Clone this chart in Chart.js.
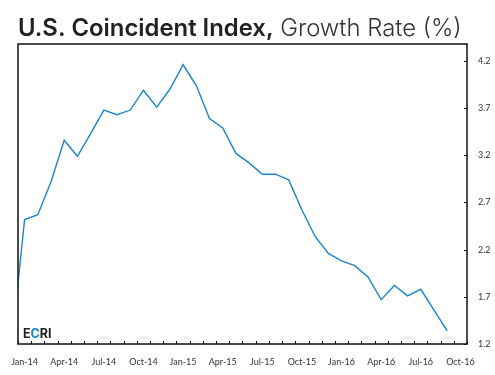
<!DOCTYPE html>
<html>
<head>
<meta charset="utf-8">
<script src="https://cdn.jsdelivr.net/npm/chart.js@4.4.0/dist/chart.umd.min.js"></script>
<style>
  html, body { margin: 0; padding: 0; background: #fff; }
  #wrap { width: 495px; height: 375px; }
</style>
</head>
<body>
<div id="wrap"><canvas id="IndexChart" width="495" height="375"></canvas></div>
<script>
// monthly categories (Dec-13 sits just left of the visible axis, clipped like the original)
const months = ["Dec-13",
  "Jan-14","Feb-14","Mar-14","Apr-14","May-14","Jun-14","Jul-14","Aug-14","Sep-14","Oct-14","Nov-14","Dec-14",
  "Jan-15","Feb-15","Mar-15","Apr-15","May-15","Jun-15","Jul-15","Aug-15","Sep-15","Oct-15","Nov-15","Dec-15",
  "Jan-16","Feb-16","Mar-16","Apr-16","May-16","Jun-16","Jul-16","Aug-16","Sep-16","Oct-16"];
const growthRate = [1.18,
  2.52, 2.57, 2.92, 3.36, 3.19, 3.43, 3.68, 3.63, 3.68, 3.89, 3.71, 3.90,
  4.16, 3.94, 3.59, 3.49, 3.22, 3.12, 3.00, 3.00, 2.94, 2.62, 2.34, 2.16,
  2.08, 2.03, 1.91, 1.67, 1.82, 1.71, 1.78, 1.56, 1.34, null];
const yTicks = [1.2, 1.7, 2.2, 2.7, 3.2, 3.7, 4.2];
const shownMonths = ["Jan", "Apr", "Jul", "Oct"];

const framePlugin = {
  id: "frame",
  afterDraw(chart) {
    const ctx = chart.ctx;
    const a = chart.chartArea;
    const xs = chart.scales.x, ys = chart.scales.y;
    ctx.save();
    // box round the plot
    ctx.strokeStyle = "#111";
    ctx.lineWidth = 1.5;
    ctx.strokeRect(a.left, a.top, a.right - a.left, a.bottom - a.top);
    // inward tick marks
    ctx.lineWidth = 1;
    ctx.beginPath();
    const step = xs.getPixelForValue(2) - xs.getPixelForValue(1);
    for (let i = xs.min; i <= xs.max + 1; i++) {
      const px = Math.round(xs.getPixelForValue(i) - step / 2) + 0.5;
      ctx.moveTo(px, a.bottom);
      ctx.lineTo(px, a.bottom - 3);
    }
    yTicks.forEach(v => {
      const py = Math.round(ys.getPixelForValue(v)) + 0.5;
      ctx.moveTo(a.right, py);
      ctx.lineTo(a.right - 3, py);
    });
    ctx.stroke();

    // title: bold part + light part
    const bold = "U.S. Coincident Index,";
    const light = " Growth Rate (%)";
    let size = 21;
    const fam = "Inter, 'Open Sans', sans-serif";
    const measure = s => {
      ctx.font = "600 " + s + "px " + fam;
      const w1 = ctx.measureText(bold).width;
      ctx.font = "300 " + s + "px " + fam;
      return w1 + ctx.measureText(light).width;
    };
    size = size * 444 / measure(size);
    ctx.textBaseline = "alphabetic";
    ctx.fillStyle = "#222";
    ctx.font = "600 " + size + "px " + fam;
    ctx.fillText(bold, 18, 36);
    const w1 = ctx.measureText(bold).width;
    ctx.fillStyle = "#333";
    ctx.font = "300 " + size + "px " + fam;
    ctx.fillText(light, 18 + w1, 36);

    // ECRI mark
    ctx.font = "bold 12.5px Inter, sans-serif";
    let lx = 23;
    [["E", "#222"], ["C", "#1e84c8"], ["RI", "#222"]].forEach(([t, c]) => {
      ctx.fillStyle = c;
      ctx.fillText(t, lx, 338);
      lx += ctx.measureText(t).width;
    });
    ctx.restore();
  }
};

let ctxIdx = document.getElementById("IndexChart").getContext("2d");
let indexChart = new Chart(ctxIdx, {
  type: "line",
  data: {
    labels: months,
    datasets: [{
      label: "Growth Rate (%)",
      data: growthRate,
      borderColor: "#1e84c8",
      borderWidth: 1.4,
      pointRadius: 0,
      tension: 0
    }]
  },
  options: {
    responsive: false,
    animation: false,
    layout: { padding: { left: 18, top: 44, right: 0, bottom: 0 } },
    plugins: {
      legend: { display: false },
      tooltip: { enabled: false }
    },
    scales: {
      x: {
        type: "category",
        min: "Jan-14",
        max: "Oct-16",
        offset: true,
        grid: { display: false },
        border: { display: false },
        ticks: {
          autoSkip: false,
          maxRotation: 0,
          padding: 5,
          color: "#333",
          font: { family: "Lato, sans-serif", size: 9 },
          callback: function (value) {
            const lab = this.getLabelForValue(value);
            return shownMonths.includes(lab.slice(0, 3)) ? lab : "";
          }
        },
        afterFit: s => { s.height = 31; }
      },
      y: {
        position: "right",
        min: 1.2,
        max: 4.38,
        grid: { display: false },
        border: { display: false },
        afterBuildTicks: s => { s.ticks = yTicks.map(v => ({ value: v })); },
        ticks: {
          padding: 3,
          color: "#333",
          font: { family: "Lato, sans-serif", size: 9 },
          callback: v => v.toFixed(1)
        },
        afterFit: s => { s.width = 28; }
      }
    }
  },
  plugins: [framePlugin]
});
</script>
</body>
</html>
